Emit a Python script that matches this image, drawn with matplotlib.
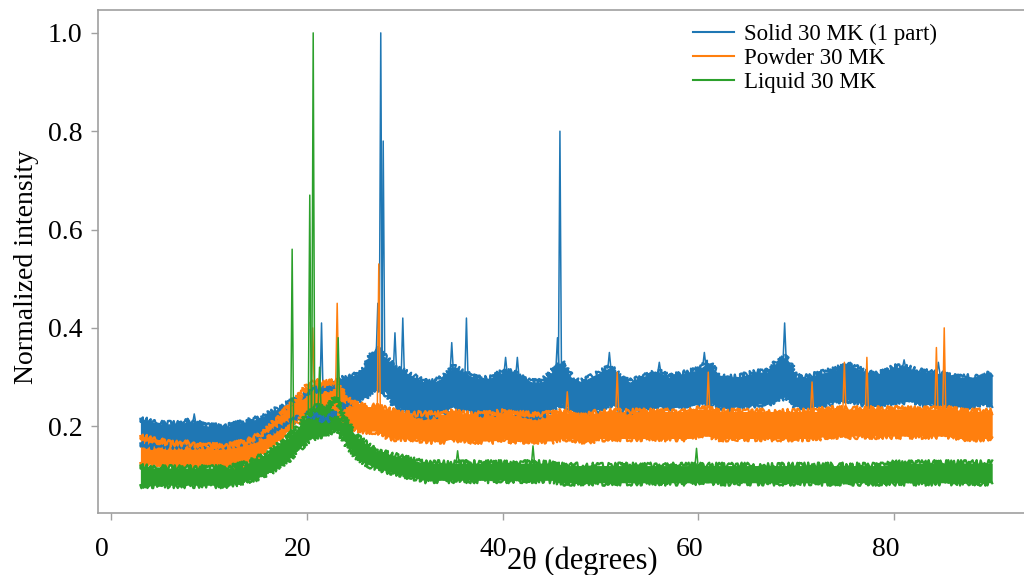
import matplotlib
matplotlib.use("Agg")
import matplotlib.pyplot as plt
import matplotlib.transforms as mtransforms
from matplotlib.lines import Line2D
import numpy as np

plt.rcParams['font.family'] = ['Liberation Serif', 'DejaVu Serif']

# 2-theta grid (degrees) for the noise band of each pattern
THETA = list(range(3, 91))

# Solid 30 MK (1 part): lower / upper edge of the noisy band
solid_lo = [0.165, 0.16, 0.16, 0.16, 0.16, 0.16, 0.16, 0.16, 0.16, 0.16,
            0.165, 0.17, 0.175, 0.185, 0.195, 0.205, 0.215, 0.225, 0.22, 0.21,
            0.23, 0.245, 0.25, 0.26, 0.28, 0.27, 0.24, 0.235, 0.225, 0.22,
            0.22, 0.23, 0.24, 0.235, 0.23, 0.225, 0.225, 0.235, 0.23, 0.225,
            0.22, 0.22, 0.235, 0.245, 0.235, 0.225, 0.23, 0.235, 0.245, 0.235,
            0.23, 0.235, 0.24, 0.24, 0.235, 0.24, 0.24, 0.245, 0.25, 0.24,
            0.235, 0.24, 0.24, 0.245, 0.245, 0.255, 0.26, 0.24, 0.24, 0.24,
            0.245, 0.25, 0.255, 0.25, 0.245, 0.24, 0.245, 0.25, 0.25, 0.25,
            0.245, 0.245, 0.245, 0.24, 0.24, 0.24, 0.245, 0.245]
solid_hi = [0.215, 0.21, 0.205, 0.205, 0.205, 0.21, 0.205, 0.20, 0.20, 0.20,
            0.205, 0.21, 0.215, 0.225, 0.235, 0.245, 0.255, 0.27, 0.275, 0.27,
            0.29, 0.30, 0.305, 0.32, 0.36, 0.34, 0.32, 0.31, 0.30, 0.29,
            0.29, 0.30, 0.32, 0.31, 0.30, 0.295, 0.30, 0.31, 0.31, 0.30,
            0.29, 0.29, 0.31, 0.33, 0.30, 0.29, 0.30, 0.31, 0.32, 0.30,
            0.29, 0.30, 0.305, 0.31, 0.30, 0.305, 0.31, 0.315, 0.33, 0.305,
            0.30, 0.30, 0.305, 0.31, 0.31, 0.33, 0.34, 0.30, 0.30, 0.305,
            0.31, 0.315, 0.325, 0.32, 0.31, 0.305, 0.31, 0.32, 0.32, 0.315,
            0.31, 0.31, 0.305, 0.30, 0.30, 0.30, 0.305, 0.305]
solid_peak_pos = [8.5, 21.5, 27.25, 27.55, 27.8, 29.0, 29.8, 34.8, 36.3, 40.3,
                  41.5, 45.6, 45.85, 50.9, 56.0, 60.6, 68.8, 75.5, 81.0, 84.5]
solid_peak_val = [0.225, 0.41, 0.45, 1.0, 0.78, 0.39, 0.42, 0.37, 0.42, 0.34,
                  0.34, 0.38, 0.80, 0.35, 0.33, 0.35, 0.41, 0.33, 0.335, 0.33]

# Powder 30 MK
powder_lo = [0.125, 0.125, 0.12, 0.12, 0.12, 0.12, 0.12, 0.12, 0.12, 0.12,
             0.12, 0.13, 0.14, 0.155, 0.17, 0.19, 0.21, 0.235, 0.245, 0.245,
             0.24, 0.21, 0.195, 0.19, 0.19, 0.18, 0.175, 0.175, 0.175, 0.17,
             0.17, 0.17, 0.175, 0.17, 0.17, 0.17, 0.17, 0.175, 0.17, 0.17,
             0.17, 0.17, 0.17, 0.175, 0.175, 0.17, 0.17, 0.175, 0.175, 0.175,
             0.175, 0.175, 0.175, 0.175, 0.175, 0.175, 0.175, 0.18, 0.18, 0.175,
             0.175, 0.175, 0.175, 0.175, 0.175, 0.175, 0.175, 0.175, 0.175, 0.175,
             0.18, 0.18, 0.18, 0.18, 0.18, 0.18, 0.18, 0.18, 0.18, 0.18,
             0.18, 0.18, 0.18, 0.18, 0.175, 0.175, 0.175, 0.175]
powder_hi = [0.18, 0.175, 0.17, 0.165, 0.165, 0.165, 0.16, 0.16, 0.16, 0.16,
             0.165, 0.17, 0.18, 0.195, 0.215, 0.235, 0.255, 0.28, 0.29, 0.29,
             0.29, 0.26, 0.245, 0.24, 0.24, 0.235, 0.23, 0.225, 0.225, 0.225,
             0.225, 0.225, 0.23, 0.225, 0.225, 0.225, 0.225, 0.23, 0.225, 0.225,
             0.225, 0.225, 0.225, 0.23, 0.225, 0.22, 0.225, 0.23, 0.23, 0.23,
             0.23, 0.23, 0.23, 0.23, 0.23, 0.23, 0.23, 0.235, 0.235, 0.23,
             0.23, 0.23, 0.23, 0.23, 0.23, 0.23, 0.23, 0.23, 0.23, 0.23,
             0.235, 0.235, 0.235, 0.235, 0.235, 0.235, 0.235, 0.235, 0.235, 0.235,
             0.235, 0.235, 0.235, 0.235, 0.23, 0.23, 0.23, 0.23]
powder_peak_pos = [20.6, 23.1, 27.35, 46.6, 51.7, 61.0, 71.6, 74.9, 77.2, 84.3, 85.1]
powder_peak_val = [0.40, 0.45, 0.53, 0.27, 0.31, 0.31, 0.29, 0.33, 0.34, 0.36, 0.40]

# Liquid 30 MK
liquid_lo = [0.08, 0.08, 0.08, 0.08, 0.08, 0.08, 0.08, 0.08, 0.08, 0.08,
             0.085, 0.09, 0.095, 0.105, 0.115, 0.13, 0.15, 0.17, 0.18, 0.18,
             0.20, 0.165, 0.14, 0.125, 0.115, 0.11, 0.105, 0.10, 0.095, 0.09,
             0.09, 0.09, 0.09, 0.09, 0.09, 0.09, 0.09, 0.09, 0.09, 0.09,
             0.09, 0.09, 0.09, 0.085, 0.085, 0.085, 0.085, 0.085, 0.085, 0.085,
             0.085, 0.085, 0.085, 0.085, 0.085, 0.085, 0.085, 0.085, 0.085, 0.085,
             0.085, 0.085, 0.085, 0.085, 0.085, 0.085, 0.085, 0.085, 0.085, 0.085,
             0.085, 0.085, 0.085, 0.085, 0.085, 0.085, 0.085, 0.085, 0.085, 0.085,
             0.085, 0.085, 0.085, 0.085, 0.085, 0.085, 0.085, 0.085]
liquid_hi = [0.12, 0.115, 0.115, 0.115, 0.115, 0.115, 0.115, 0.115, 0.115, 0.115,
             0.12, 0.125, 0.135, 0.145, 0.16, 0.175, 0.195, 0.22, 0.24, 0.235,
             0.26, 0.21, 0.18, 0.165, 0.15, 0.145, 0.14, 0.135, 0.13, 0.125,
             0.125, 0.125, 0.125, 0.125, 0.125, 0.125, 0.125, 0.125, 0.125, 0.125,
             0.125, 0.125, 0.125, 0.12, 0.12, 0.12, 0.12, 0.12, 0.12, 0.12,
             0.12, 0.12, 0.12, 0.12, 0.12, 0.12, 0.12, 0.12, 0.12, 0.12,
             0.12, 0.12, 0.12, 0.12, 0.12, 0.12, 0.12, 0.12, 0.12, 0.12,
             0.12, 0.12, 0.12, 0.12, 0.12, 0.12, 0.12, 0.125, 0.125, 0.125,
             0.125, 0.125, 0.125, 0.125, 0.125, 0.125, 0.125, 0.125]
liquid_peak_pos = [18.5, 20.3, 20.65, 21.3, 23.2, 35.4, 43.1, 59.8]
liquid_peak_val = [0.56, 0.67, 1.0, 0.32, 0.38, 0.15, 0.16, 0.155]

labels = ["Solid 30 MK (1 part)", "Powder 30 MK", "Liquid 30 MK"]
colors = ["#1f77b4", "#ff7f0e", "#2ca02c"]

series = [
    (solid_lo, solid_hi, solid_peak_pos, solid_peak_val),
    (powder_lo, powder_hi, powder_peak_pos, powder_peak_val),
    (liquid_lo, liquid_hi, liquid_peak_pos, liquid_peak_val),
]

fig = plt.figure(figsize=(10.24, 5.75), dpi=100)
# axes run past the right edge of the picture, like the cropped original
ax = fig.add_axes([97.8 / 1024, 62 / 575, 937 / 1024, 503 / 575])

x = np.array(THETA, dtype=float)
half_w = 0.15  # half width of a drawn peak, degrees
for (lo, hi, ppos, pval), col in zip(series, colors):
    lo = np.array(lo)
    hi = np.array(hi)
    ax.fill_between(x, lo, hi, color=col, lw=0)
    # sketch style so the band edges look noisy like the raw scan
    for edge in (hi, lo):
        ln, = ax.plot(x, edge, color=col, lw=1.6)
        ln.set_sketch_params(scale=3.0, length=0.8, randomness=5.0)
    for c, h in zip(ppos, pval):
        base = np.interp(c, x, hi)
        ax.plot([c - half_w, c, c + half_w], [base, h, base], color=col, lw=1.1)

ax.set_xlim(-1.35, 94.35)
ax.set_ylim(0.0235, 1.0465)
ax.set_xticks([0, 20, 40, 60, 80])
ax.set_yticks([0.2, 0.4, 0.6, 0.8, 1.0])
ax.set_yticklabels(["0.2", "0.4", "0.6", "0.8", "1.0"])

for sp in ax.spines.values():
    sp.set_color("#a0a0a0")
    sp.set_linewidth(1.2)
ax.tick_params(axis="both", colors="#a0a0a0", labelcolor="black", labelsize=20,
               length=5, width=1)
ax.tick_params(axis="x", pad=12)
ax.tick_params(axis="y", pad=6)

shift = mtransforms.ScaledTranslation(-9 / 100, 0, fig.dpi_scale_trans)
for lab in ax.get_xticklabels():
    lab.set_transform(lab.get_transform() + shift)

ax.set_ylabel("Normalized intensity", fontsize=20)
ax.yaxis.set_label_coords(-0.063, 0.49)
ax.set_xlabel("2θ (degrees)", fontsize=22)
ax.xaxis.set_label_coords((582 - 97.8) / 937, -0.066)

handles = [Line2D([0], [0], color=c, lw=1.5) for c in colors]
fig.legend(handles, labels, loc="upper left", bbox_to_anchor=(684 / 1024, 1 - 15 / 575),
           frameon=False, fontsize=16.5, handlelength=1.8, handletextpad=0.4,
           labelspacing=0.12, borderaxespad=0)

fig.savefig("out.png", dpi=100)
